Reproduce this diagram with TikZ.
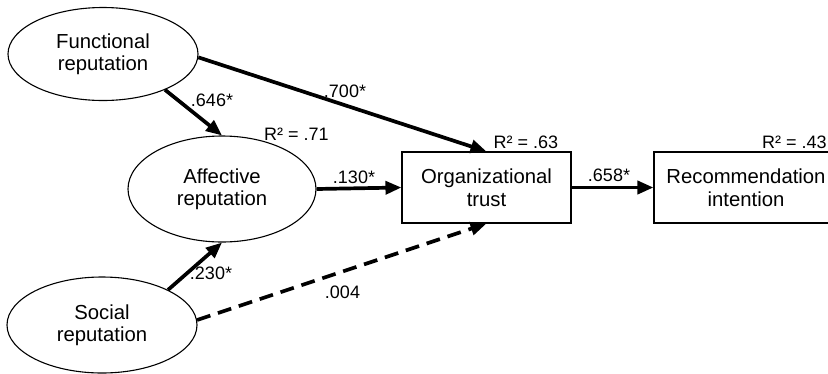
\documentclass[tikz,border=0pt]{standalone}
\usepackage{fontspec}
\setmainfont{Liberation Sans}
\usetikzlibrary{shapes.geometric,arrows.meta}
\begin{document}
\begin{tikzpicture}[x=1pt,y=-1pt,
  lat/.style={ellipse,draw,line width=1.1pt,inner sep=0pt,align=center,
    font=\fontsize{20.3}{22.5}\selectfont},
  obs/.style={rectangle,draw,line width=1.1pt,inner sep=0pt,align=center,
    minimum height=71pt,font=\fontsize{20.3}{22.5}\selectfont},
  path/.style={line width=3.7pt,-{Triangle[length=16pt,width=13pt]}},
  nspath/.style={path,dash pattern=on 14pt off 8pt},
  coef/.style={inner sep=0pt,font=\fontsize{18}{20}\selectfont}]
\clip (0,0) rectangle (828,373);
\node[lat,minimum width=190pt,minimum height=93pt] (F) at (103,54) {Functional\\reputation};
\node[lat,minimum width=188pt,minimum height=106pt] (A) at (222,189) {Affective\\reputation};
\node[lat,minimum width=190pt,minimum height=96pt] (S) at (102,325) {Social\\reputation};
\node[obs,minimum width=169pt] (O) at (486.5,187.5) {Organizational\\trust};
\node[obs,minimum width=184pt] (R) at (746,187.5) {Recommendation\\intention};
\draw[path] (F.-30) -- (A.north);
\draw[path] (F.-2) -- (O.north);
\draw[path] (A.east) -- (O.west);
\draw[path] (O.east) -- (R.west);
\draw[path] (S.28) -- (A.south);
\draw[nspath] (S.3) -- (O.south);
\node[coef] (c1) at (212,100) {.646*};
\node[coef] (c2) at (345,91) {.700*};
\node[coef] (c3) at (354,177) {.130*};
\node[coef] (c4) at (609,175) {.658*};
\node[coef] (c5) at (211,273) {.230*};
\node[coef] (c6) at (342.5,292) {.004};
\node[coef] (r1) at (296.5,134) {R² = .71};
\node[coef] (r2) at (526,142) {R² = .63};
\node[coef] (r3) at (794.5,142) {R² = .43};
\end{tikzpicture}
\end{document}
